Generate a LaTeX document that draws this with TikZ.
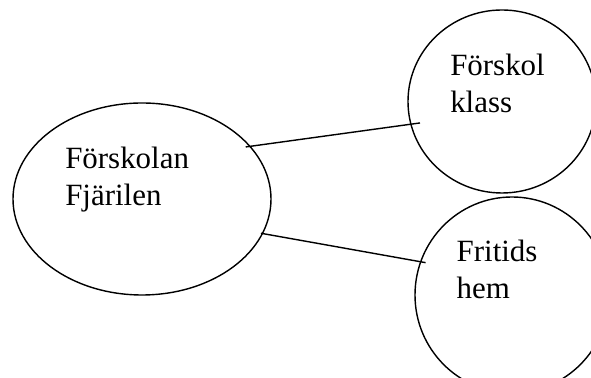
\documentclass[tikz,border=0pt]{standalone}
\usepackage{fontspec}
\setmainfont{Liberation Serif}
\usepackage{tikz}
\usetikzlibrary{shapes.geometric}

\begin{document}
\begin{tikzpicture}[
    bubble/.style={draw, ellipse, line width=1pt, inner sep=0pt, outer sep=0pt},
    lbl/.style={anchor=north west, inner sep=0pt, align=left,
      font=\fontsize{22}{26.5}\selectfont},
    link/.style={line width=1pt}
  ]
  \useasboundingbox (0,0) rectangle (14.775,9.45);

  \node[bubble, minimum width=6.45cm, minimum height=4.8cm] (fjarilen) at (3.55,4.475) {};
  \node[bubble, minimum width=4.7cm, minimum height=4.575cm] (klass) at (12.55,6.9125) {};
  \node[bubble, minimum width=4.85cm, minimum height=4.9cm] (fritids) at (12.8,2.075) {};

  \node[lbl] (fjarilentext) at (1.625,5.79) {Förskolan\\Fjärilen};
  \node[lbl] (klasstext) at (11.25,8.11) {Förskol\\klass};
  \node[lbl] (fritidstext) at (11.41,3.45) {Fritids\\hem};

  % Draw edges
  \draw[link, shorten <=-3pt, shorten >=-6.5pt] (fjarilen.26) -- (klass.194); % upper
  \draw[link, shorten <=-1pt, shorten >=-3.5pt] (fjarilen.-16.5) -- (fritids.160); % lower
\end{tikzpicture}
\end{document}
